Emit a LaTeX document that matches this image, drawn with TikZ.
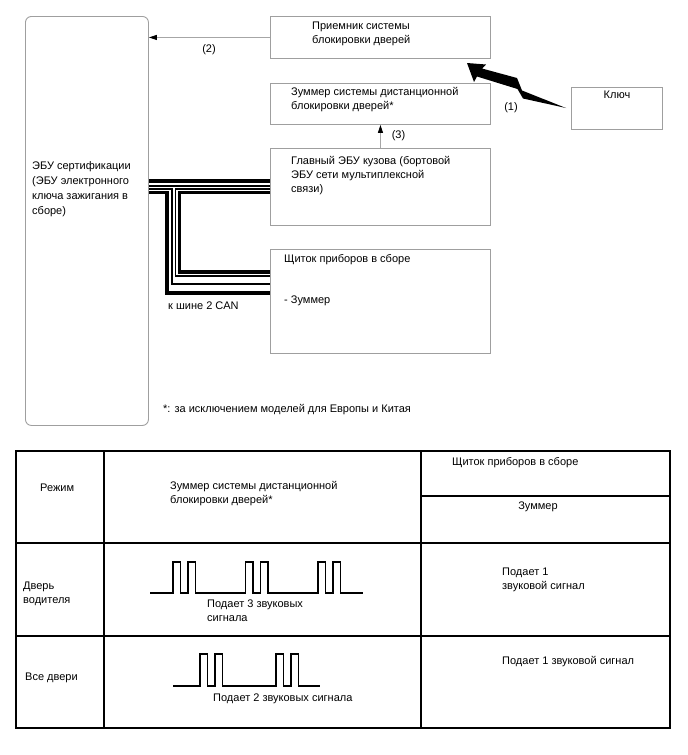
\documentclass[tikz,border=0pt]{standalone}
\usepackage{fontspec}
\setmainfont{Liberation Sans}
\usetikzlibrary{arrows.meta}
\tikzset{
	box/.style={draw=gray!75, line width=0.9pt, inner sep=0pt, anchor=north west},
	txt/.style={inner sep=0pt, anchor=west, align=left, font=\fontsize{11}{14}\selectfont},
	sig/.style={draw=gray!70, line width=0.8pt, -{Triangle[length=8pt,width=5pt,color=black]}},
	canthick/.style={line width=3.7pt},
	canthin/.style={line width=1.1pt},
	grid/.style={line width=1.3pt},
	wave/.style={line width=1.3pt},
}

\begin{document}
\begin{tikzpicture}[x=1pt, y=-1pt]
	\useasboundingbox (0,0) rectangle (688,755);

	\node (ecu)[box, rounded corners=6pt, minimum width=123pt, minimum height=409pt] at (25,16) {};
	\node (recv)[box, minimum width=220pt, minimum height=42pt] at (270,16) {};
	\node (buzz)[box, minimum width=220pt, minimum height=41pt] at (270,83) {};
	\node (body)[box, minimum width=220pt, minimum height=77pt] at (270,148) {};
	\node (meter)[box, minimum width=220pt, minimum height=104pt] at (270,249) {};
	\node (key)[box, minimum width=91pt, minimum height=42pt] at (571,87) {};

	\node (ecutxt)[txt, font=\fontsize{11}{15}\selectfont] at (32,189.5) {ЭБУ сертификации\\(ЭБУ электронного\\ключа зажигания в\\сборе)};
	\node (recvtxt)[txt] at (312,33.5) {Приемник системы\\блокировки дверей};
	\node (buzztxt)[txt] at (291,99.5) {Зуммер системы дистанционной\\блокировки дверей*};
	\node (bodytxt)[txt] at (291,176) {Главный ЭБУ кузова (бортовой\\ЭБУ сети мультиплексной\\связи)};
	\node (metertxt)[txt] at (284,260) {Щиток приборов в сборе};
	\node (metbuzz)[txt] at (284,301) {- Зуммер};
	\node (keytxt)[txt, anchor=center] at (617,95) {Ключ};

	\draw[sig] (recv.west) -- (ecu.east |- recv.west);
	\node (l2)[txt, anchor=center] at (209,50) {(2)};
	\draw[sig] (body.north) -- (buzz.south);
	\node (l3)[txt, anchor=center] at (398.5,136) {(3)};

	\fill (467,63) -- (486,64.5) -- (482,68.5) -- (517,78) -- (522,90.5) -- (566,108) -- (523,98.5) -- (517.5,89) -- (477,76.5) -- (474,82) -- cycle;
	\node (l1)[txt, anchor=center] at (511,108) {(1)};

	\draw[canthick] (ecu.east |- 0,181) -- (body.west |- 0,181);
	\draw[canthin] (ecu.east |- 0,186) -- (body.west |- 0,186);
	\draw[canthin] (ecu.east |- 0,189) -| (172,284) -- (meter.west |- 0,284);
	\draw[canthick] (ecu.east |- 0,192.5) -| (167,293) -- (meter.west |- 0,293);
	\draw[canthin] (body.west |- 0,189) -| (175.5,276) -- (meter.west |- 0,276);
	\draw[canthick] (body.west |- 0,192.5) -| (179.5,272) -- (meter.west |- 0,272);
	\node (can)[txt] at (168,306) {к шине 2 CAN};

	\node (note)[txt] at (163,410) {*: за исключением моделей для Европы и Китая};

	\draw[grid] (16,451) rectangle (670,728);
	\draw[grid] (104,451) -- (104,728);
	\draw[grid] (421,451) -- (421,728);
	\draw[grid] (16,543) -- (670,543);
	\draw[grid] (16,636) -- (670,636);
	\draw[grid] (421,496) -- (670,496);

	\node (mode)[txt] at (40,488) {Режим};
	\node (hbuzz)[txt] at (170,493.5) {Зуммер системы дистанционной\\блокировки дверей*};
	\node (hmeter)[txt] at (452,463) {Щиток приборов в сборе};
	\node (hmbuzz)[txt, anchor=center] at (538,507) {Зуммер};
	\node (drv)[txt] at (23,593.5) {Дверь\\водителя};
	\node (all)[txt] at (25,678) {Все двери};

	\draw[wave] (150,593) foreach \g in {173,245.5,318} { -- (\g,593) -- (\g,562) -- ++(7.5,0) -- ++(0,31) -- ++(7.5,0) -- ++(0,-31) -- ++(7.5,0) -- ++(0,31) } -- (363,593);
	\node (drvb)[txt] at (207,610.5) {Подает 3 звуковых\\сигнала};
	\draw[wave] (173,686) foreach \g in {200,276} { -- (\g,686) -- (\g,654) -- ++(7.5,0) -- ++(0,32) -- ++(7.5,0) -- ++(0,-32) -- ++(7.5,0) -- ++(0,32) } -- (320,686);
	\node (allb)[txt] at (213,699) {Подает 2 звуковых сигнала};

	\node (drvm)[txt] at (502,579.5) {Подает 1\\звуковой сигнал};
	\node (allm)[txt] at (502,662) {Подает 1 звуковой сигнал};
\end{tikzpicture}
\end{document}
